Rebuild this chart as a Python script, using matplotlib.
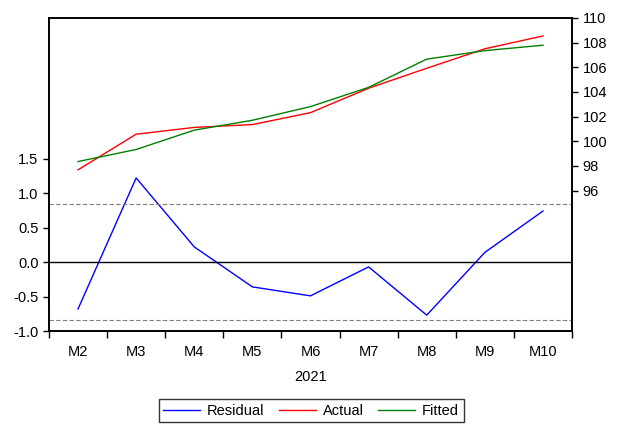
import numpy as np
import matplotlib.pyplot as plt
import matplotlib.ticker as ticker

plt.rcParams['font.family'] = ['Liberation Sans', 'DejaVu Sans']

months = ["M2", "M3", "M4", "M5", "M6", "M7", "M8", "M9", "M10"]
actual = [97.68, 100.57, 101.12, 101.35, 102.32, 104.30, 105.92, 107.50, 108.54]
fitted = [98.35, 99.33, 100.90, 101.70, 102.81, 104.37, 106.66, 107.35, 107.79]
residual = [-0.68, 1.22, 0.22, -0.36, -0.49, -0.07, -0.77, 0.14, 0.74]
se = 0.84
year_label = "2021"

x = np.arange(len(months))
fs = 10.5

fig = plt.figure(figsize=(6.2, 4.28), dpi=100)
ax = fig.add_axes([0.079, 0.2266, 0.8436, 0.7314])
ax2 = ax.twinx()

# residual panel on the left scale
l1, = ax.plot(x, residual, color="#0000ff", lw=1.0, label="Residual")
ax.axhline(0, color="black", lw=1.0)
ax.axhline(se, color="#808080", lw=0.8, ls=(0, (4, 2)))
ax.axhline(-se, color="#808080", lw=0.8, ls=(0, (4, 2)))
ax.set_ylim(-1.0, 3.54)
ax.set_yticks([-1.0, -0.5, 0.0, 0.5, 1.0, 1.5])
ax.yaxis.set_major_formatter(ticker.FormatStrFormatter('%.1f'))

# actual / fitted on the right scale
l2, = ax2.plot(x, actual, color="#ff0000", lw=1.0, label="Actual")
l3, = ax2.plot(x, fitted, color="#008000", lw=1.0, label="Fitted")
ax2.set_ylim(84.6, 110)
ax2.set_yticks(np.arange(96, 111, 2))

ax.set_xlim(-0.5, len(months) - 0.5)
ax.set_xticks(x)
ax.set_xticklabels(months)
ax.set_xticks(np.arange(-0.5, len(months), 1.0), minor=True)
ax.tick_params(axis='x', which='major', length=0, pad=10, labelsize=fs)
ax.tick_params(axis='x', which='minor', length=5, width=1, direction='out')
ax.tick_params(axis='y', length=4, width=1, direction='out', labelsize=fs)
ax2.tick_params(axis='y', length=4, width=1, direction='out', labelsize=fs)
ax.set_xlabel(year_label, fontsize=fs, labelpad=8)

for a in (ax, ax2):
    for s in a.spines.values():
        s.set_linewidth(1.2)

leg = fig.legend(handles=[l1, l2, l3], loc='lower center', ncol=3,
                 bbox_to_anchor=(0.502, 0.014), borderaxespad=0,
                 fontsize=fs, frameon=True,
                 fancybox=False, edgecolor='black', handlelength=2.5,
                 columnspacing=1.0, handletextpad=0.5, borderpad=0.3)
leg.get_frame().set_linewidth(1.0)

plt.savefig('out.png', dpi=100)
